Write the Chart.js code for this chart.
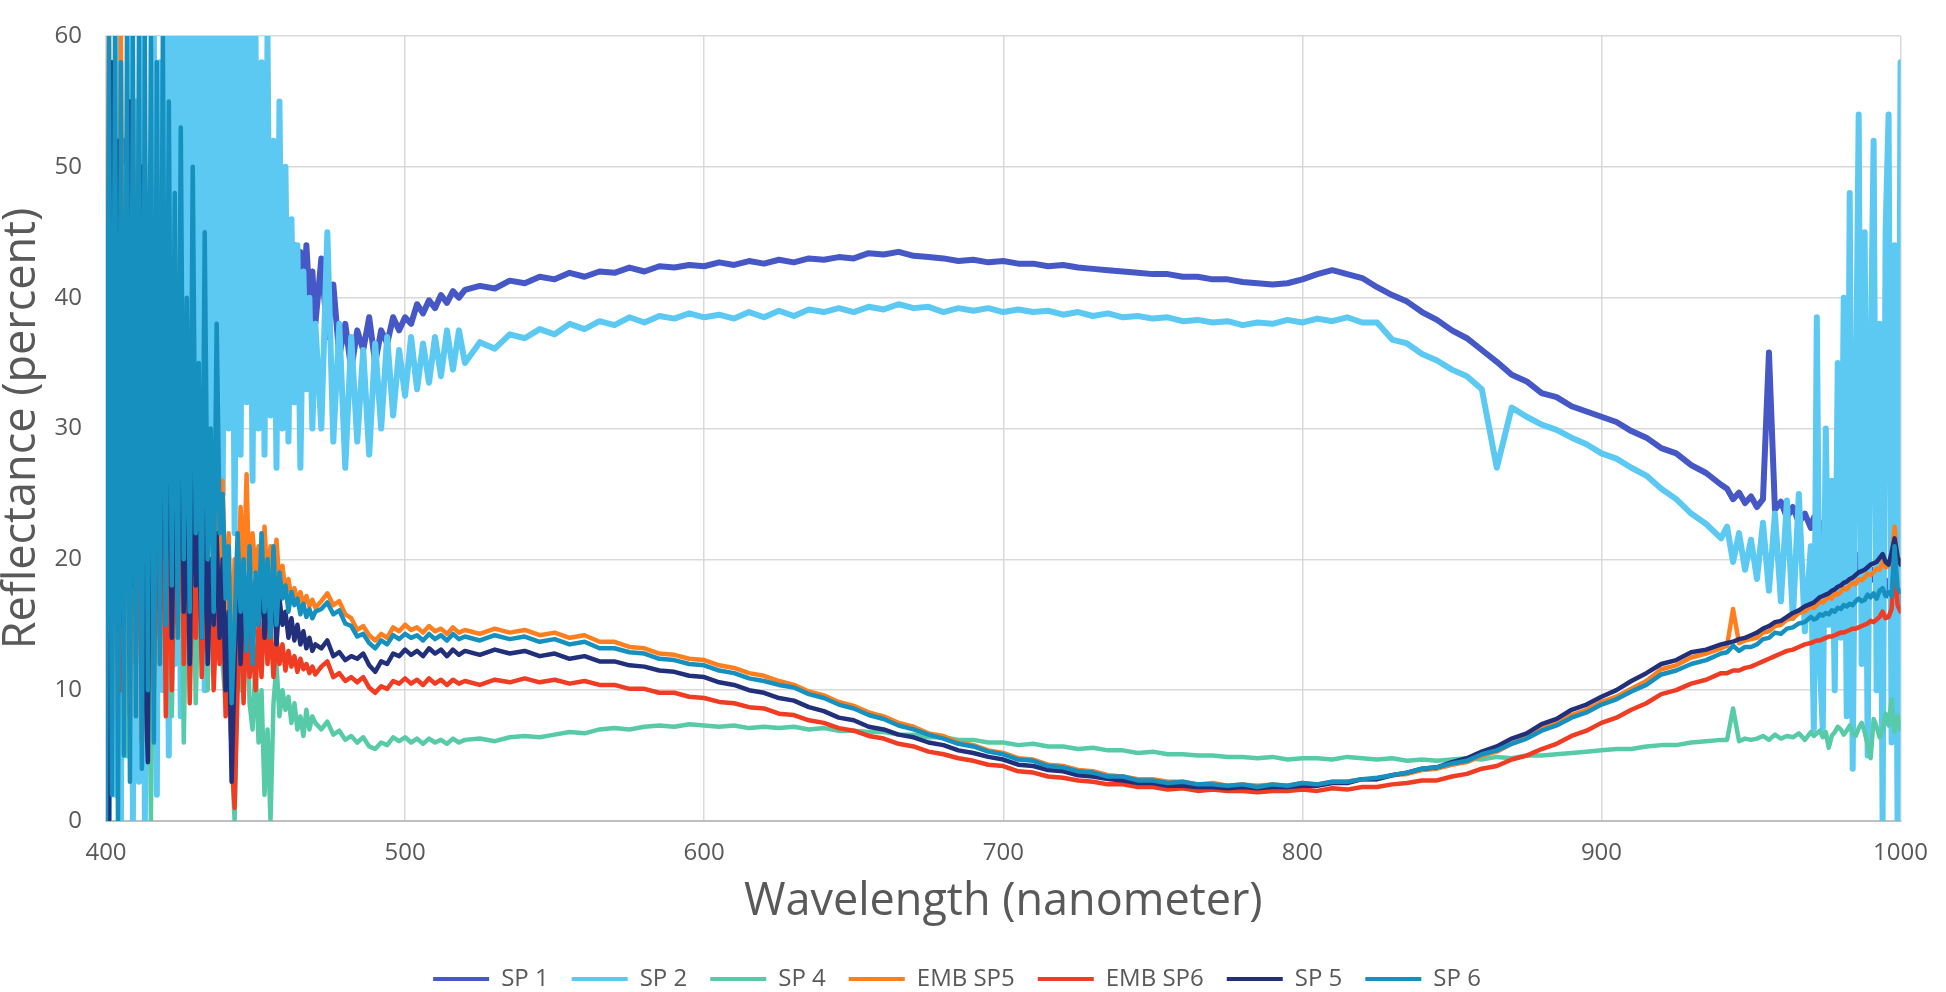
<!DOCTYPE html>
<html>
<head>
<meta charset="utf-8">
<title>Reflectance spectra</title>
<script src="https://cdn.jsdelivr.net/npm/chart.js@4.4.1/dist/chart.umd.min.js"></script>
<style>
  html, body { margin: 0; padding: 0; background: #ffffff; }
  #wrap { width: 1946px; height: 992px; }
</style>
</head>
<body>
<div id="wrap"><canvas id="myChart" width="1946" height="992"></canvas></div>
<script>
// wavelength samples (nm): 1 nm where the spectra are very noisy, 2 nm next to
// those parts, 5 nm across the smooth middle
const wavelengths = [
    400, 401, 402, 403, 404, 405, 406, 407, 408, 409, 410, 411, 412, 413, 414, 415, 416, 417, 418, 419, 420,
    421, 422, 423, 424, 425, 426, 427, 428, 429, 430, 431, 432, 433, 434, 435, 436, 437,
    438, 439, 440, 441, 442, 443, 444, 445, 446, 447, 448, 449, 450, 451, 452, 453, 454,
    455, 456, 457, 458, 459, 460, 461, 462, 463, 464, 465, 466, 467, 468, 469, 470,
    472, 474, 476, 478, 480, 482, 484, 486, 488, 490, 492, 494, 496, 498, 500,
    502, 504, 506, 508, 510, 512, 514, 516, 518, 520,
    525, 530, 535, 540, 545, 550, 555, 560, 565, 570,
    575, 580, 585, 590, 595, 600, 605, 610, 615, 620,
    625, 630, 635, 640, 645, 650, 655, 660, 665, 670,
    675, 680, 685, 690, 695, 700, 705, 710, 715, 720,
    725, 730, 735, 740, 745, 750, 755, 760, 765, 770,
    775, 780, 785, 790, 795, 800, 805, 810, 815, 820,
    825, 830, 835, 840, 845, 850, 855, 860, 865, 870,
    875, 880, 885, 890, 895, 900, 905, 910, 915, 920,
    925, 930, 935, 940,
    942, 944, 946, 948, 950, 952, 954, 956, 958, 960, 962, 964, 966, 968, 970,
    971, 972, 973, 974, 975, 976, 977, 978, 979, 980,
    981, 982, 983, 984, 985, 986, 987, 988, 989, 990,
    991, 992, 993, 994, 995, 996, 997, 998, 999, 1000
];

const sp1 = [
    40, 22, 55, 30, 60, 25, 52, 35, 58, 28, 50, 38, 60, 30, 45, 36, 55, 32, 50, 40, 58,
    35, 52, 38, 48, 36, 55, 40, 46, 37, 50, 39, 47, 36, 45, 40, 49, 38,
    44, 39, 46, 37, 43, 40, 45, 38, 42, 39, 44, 37, 41, 38, 43, 36, 40,
    38, 42, 37, 41, 39, 40, 37, 38, 44, 41, 43.5, 39, 44, 40, 42, 38,
    43, 37, 41, 35.5, 38, 34.5, 37.5, 36, 38.5, 35, 37.5, 36.5, 38.5, 37.5, 38.5,
    38, 39.5, 38.8, 39.8, 39.2, 40.2, 39.6, 40.5, 40, 40.6,
    40.9, 40.7, 41.3, 41.1, 41.6, 41.4, 41.9, 41.6, 42.0, 41.9,
    42.3, 42.0, 42.4, 42.3, 42.5, 42.4, 42.7, 42.5, 42.8, 42.6,
    42.9, 42.7, 43.0, 42.9, 43.1, 43.0, 43.4, 43.3, 43.5, 43.2,
    43.1, 43.0, 42.8, 42.9, 42.7, 42.8, 42.6, 42.6, 42.4, 42.5,
    42.3, 42.2, 42.1, 42.0, 41.9, 41.8, 41.8, 41.6, 41.6, 41.4,
    41.4, 41.2, 41.1, 41.0, 41.1, 41.4, 41.8, 42.1, 41.8, 41.5,
    40.8, 40.2, 39.7, 38.9, 38.3, 37.5, 36.9, 36.0, 35.1, 34.1,
    33.6, 32.7, 32.4, 31.7, 31.3, 30.9, 30.5, 29.8, 29.3, 28.5,
    28.1, 27.2, 26.6, 25.7,
    25.4, 24.6, 25.1, 24.3, 24.8, 24.0, 24.6, 35.8, 23.8, 24.4, 23.2, 24.0, 22.8, 23.5, 22.4,
    23.2, 22.0, 22.8, 21.6, 22.4, 21.2, 22.0, 20.8, 21.6, 20.4,
    21.2, 20.0, 20.8, 19.6, 20.4, 19.2, 20.0, 18.8, 19.6, 18.4,
    19.2, 18.0, 18.8, 17.6, 18.4, 17.2, 18.0, 16.8, 17.6, 16.4
];

const sp2 = [
    20, 0, 45, 2, 60, 0, 50, 5, 60, 0, 55, 3, 60, 0, 48, 6, 60, 2, 58, 10, 60,
    5, 60, 12, 60, 8, 60, 20, 60, 15, 60, 25, 60, 10, 60, 22, 60, 18,
    60, 25, 60, 30, 60, 22, 60, 28, 60, 32, 60, 26, 60, 30, 58, 28, 60,
    31, 52, 27, 55, 30, 50, 29, 46, 32, 44, 27, 42, 33, 40, 30, 38,
    30, 45, 29, 38, 27, 37, 29, 36, 28, 36.5, 30, 37, 31, 36, 32.5,
    37, 33, 36.5, 33.5, 37, 34, 37.5, 34.5, 37.5, 35,
    36.6, 36.1, 37.2, 36.9, 37.6, 37.2, 38.0, 37.6, 38.2, 37.9,
    38.5, 38.1, 38.6, 38.4, 38.8, 38.5, 38.7, 38.4, 38.9, 38.5,
    39.0, 38.6, 39.1, 38.9, 39.2, 38.9, 39.3, 39.1, 39.5, 39.2,
    39.3, 38.9, 39.2, 39.0, 39.2, 38.9, 39.1, 38.9, 39.0, 38.7,
    38.9, 38.6, 38.8, 38.5, 38.6, 38.4, 38.5, 38.2, 38.3, 38.1,
    38.2, 37.9, 38.1, 38.0, 38.3, 38.1, 38.4, 38.2, 38.5, 38.1,
    38.1, 36.8, 36.5, 35.7, 35.2, 34.5, 34.0, 33.0, 27.0, 31.6,
    30.9, 30.3, 29.9, 29.3, 28.8, 28.1, 27.7, 27.0, 26.4, 25.4,
    24.6, 23.5, 22.7, 21.6,
    22.5, 19.8, 22.0, 19.2, 21.5, 18.5, 22.8, 17.6, 23.5, 16.8, 24.5, 15.5, 25, 14.5, 21,
    7, 38.5, 12, 7, 30, 15, 26, 10, 35, 14,
    40, 8, 48, 4, 30, 54, 12, 45, 5, 35,
    52, 10, 38, 0, 45, 54, 6, 44, 0, 58
];

const sp4 = [
    30, 8, 45, 12, 40, 20, 35, 5, 38, 15, 42, 18, 30, 10, 25, 0, 20, 35, 12, 28, 10,
    25, 8, 22, 14, 26, 6, 20, 12, 24, 9, 18, 15, 22, 10, 19, 13, 17,
    20, 12, 9, 14, 5, 0, 14, 10, 12, 18, 9, 7, 12, 6, 10, 2, 7,
    0, 9, 12, 8, 10, 8.5, 9.5, 7.5, 9, 7, 8, 6.5, 8.5, 7, 8, 7.5,
    7.0, 7.6, 6.6, 6.9, 6.2, 6.5, 6.0, 6.4, 5.7, 5.5, 6.0, 5.8, 6.4, 6.1, 6.4,
    6.0, 6.3, 5.9, 6.3, 6.0, 6.2, 5.9, 6.3, 6.0, 6.2,
    6.3, 6.1, 6.4, 6.5, 6.4, 6.6, 6.8, 6.7, 7.0, 7.1,
    7.0, 7.2, 7.3, 7.2, 7.4, 7.3, 7.2, 7.3, 7.1, 7.2,
    7.1, 7.2, 7.0, 7.1, 6.9, 6.9, 6.8, 6.8, 6.6, 6.6,
    6.4, 6.4, 6.2, 6.2, 6.0, 6.0, 5.8, 5.9, 5.7, 5.7,
    5.5, 5.6, 5.4, 5.4, 5.2, 5.3, 5.1, 5.1, 5.0, 5.0,
    4.9, 4.9, 4.8, 4.9, 4.7, 4.8, 4.8, 4.7, 4.9, 4.8,
    4.7, 4.8, 4.6, 4.7, 4.6, 4.7, 4.8, 4.7, 4.9, 4.8,
    5.0, 5.0, 5.1, 5.2, 5.3, 5.4, 5.5, 5.5, 5.7, 5.8,
    5.8, 6.0, 6.1, 6.2,
    6.2, 8.6, 6.1, 6.3, 6.2, 6.3, 6.5, 6.2, 6.6, 6.3, 6.5, 6.4, 6.7, 6.2, 6.8,
    6.5, 6.7, 6.9, 6.4, 6.8, 5.6, 6.5, 6.8, 7.2, 7.0,
    6.6, 6.9, 7.3, 6.7, 6.5, 7.1, 7.5, 6.8, 5.8, 4.8,
    7.8, 7.2, 6.4, 7.0, 8.2, 7.3, 9.3, 6.8, 8.0, 7.0
];

const embSp5 = [
    15, 60, 8, 50, 20, 60, 12, 45, 25, 55, 18, 40, 22, 50, 14, 35, 26, 48, 20, 38, 16,
    42, 22, 35, 18, 30, 24, 38, 20, 28, 17, 32, 22, 26, 18, 29, 20, 24,
    18, 26, 15, 22, 12, 20, 16, 24, 18, 26.5, 17, 22, 19, 21, 17, 22.5, 18,
    21, 19, 21.5, 18, 19.5, 17.5, 18.5, 17, 17.8, 16.8, 17.5, 16.5, 17.2, 16.4, 16.9, 16.3,
    16.8, 17.4, 16.5, 16.8, 15.8, 15.5, 14.6, 14.9, 14.2, 13.8, 14.3, 14.0, 14.8, 14.5, 15.0,
    14.6, 14.8, 14.4, 14.9, 14.5, 14.7, 14.3, 14.8, 14.4, 14.6,
    14.3, 14.7, 14.4, 14.6, 14.2, 14.4, 14.0, 14.2, 13.7, 13.7,
    13.3, 13.2, 12.8, 12.7, 12.4, 12.3, 11.9, 11.7, 11.3, 11.1,
    10.7, 10.4, 9.9, 9.6, 9.1, 8.8, 8.3, 8.0, 7.5, 7.2,
    6.7, 6.5, 6.0, 5.8, 5.4, 5.2, 4.8, 4.7, 4.3, 4.2,
    3.9, 3.8, 3.5, 3.4, 3.2, 3.2, 3.0, 3.0, 2.8, 2.9,
    2.7, 2.8, 2.7, 2.8, 2.7, 2.9, 2.8, 3.0, 3.0, 3.2,
    3.2, 3.5, 3.6, 3.9, 4.0, 4.3, 4.5, 5.0, 5.3, 5.9,
    6.4, 7.1, 7.5, 8.1, 8.5, 9.1, 9.5, 10.1, 10.7, 11.6,
    11.9, 12.5, 12.8, 13.2,
    13.4, 16.2, 13.6, 13.8, 13.9, 14.0, 14.4, 14.5, 14.9, 15.0, 15.4, 15.5, 15.9, 16.0, 16.4,
    16.3, 16.5, 16.8, 16.7, 16.9, 17.1, 17.0, 17.4, 17.3, 17.5,
    17.8, 17.7, 18.0, 18.2, 18.1, 18.5, 18.4, 18.6, 18.9, 18.8,
    19.0, 19.3, 19.2, 19.8, 19.4, 19.5, 20.2, 22.5, 19.8, 20.0
];

const embSp6 = [
    35, 5, 30, 18, 45, 10, 28, 40, 8, 50, 12, 32, 6, 28, 15, 35, 10, 24, 14, 30, 8,
    26, 10, 22, 15, 30, 12, 25, 9, 20, 14, 24, 11, 18, 13, 20, 10, 16,
    12, 18, 8, 14, 5, 1, 10, 18, 9, 16, 11, 14, 10, 15, 11, 17, 12,
    15, 11, 14, 12, 13.5, 11.5, 13, 11.8, 12.6, 11.4, 12.4, 11.6, 12, 11.3, 11.8, 11.2,
    11.8, 12.2, 11.0, 11.3, 10.7, 11.0, 10.6, 11.0, 10.2, 9.8, 10.3, 10.1, 10.7, 10.5, 10.9,
    10.5, 10.8, 10.4, 10.9, 10.5, 10.8, 10.4, 10.8, 10.5, 10.7,
    10.4, 10.8, 10.6, 10.9, 10.6, 10.8, 10.5, 10.7, 10.4, 10.4,
    10.1, 10.1, 9.8, 9.8, 9.5, 9.4, 9.1, 9.0, 8.7, 8.6,
    8.2, 8.1, 7.7, 7.5, 7.1, 6.9, 6.5, 6.3, 5.9, 5.7,
    5.3, 5.1, 4.8, 4.6, 4.3, 4.2, 3.8, 3.7, 3.4, 3.3,
    3.1, 3.0, 2.8, 2.8, 2.6, 2.6, 2.4, 2.5, 2.3, 2.4,
    2.3, 2.3, 2.2, 2.3, 2.3, 2.4, 2.3, 2.5, 2.4, 2.6,
    2.6, 2.8, 2.9, 3.1, 3.1, 3.4, 3.6, 4.0, 4.2, 4.7,
    5.0, 5.5, 5.9, 6.5, 6.9, 7.5, 7.9, 8.5, 9.0, 9.7,
    10.0, 10.5, 10.8, 11.3,
    11.3, 11.5, 11.5, 11.7, 11.8, 12.0, 12.2, 12.4, 12.6, 12.8, 13.0, 13.1, 13.3, 13.5, 13.6,
    13.7, 13.8, 13.8, 13.9, 14.0, 14.1, 14.1, 14.2, 14.3, 14.4,
    14.4, 14.5, 14.6, 14.7, 14.7, 14.8, 14.9, 15.0, 15.1, 15.3,
    15.2, 15.4, 15.6, 16.0, 15.5, 15.6, 16.2, 20.0, 16.5, 16.0
];

const sp5 = [
    45, 0, 58, 20, 52, 15, 40, 30, 55, 18, 42, 25, 50, 12, 4.5, 38, 22, 45, 16, 35, 20,
    32, 14, 28, 18, 35, 16, 25, 12, 30, 18, 22, 14, 26, 12, 20, 15, 22,
    14, 20, 10, 16, 3, 12, 20, 12, 18, 14, 19, 13, 18, 15, 20, 14, 17,
    15, 18, 13.5, 17, 15, 16, 14, 15.5, 13.8, 15, 13.5, 14.5, 13.2, 14, 13, 13.5,
    13.2, 13.8, 12.6, 12.9, 12.3, 12.6, 12.4, 12.8, 11.9, 11.4, 12.2, 12.0, 12.8, 12.6, 13.1,
    12.7, 13.0, 12.6, 13.2, 12.8, 13.1, 12.6, 13.1, 12.7, 13.0,
    12.7, 13.1, 12.8, 13.0, 12.6, 12.8, 12.4, 12.6, 12.2, 12.2,
    11.9, 11.8, 11.5, 11.4, 11.1, 11.0, 10.6, 10.4, 10.0, 9.8,
    9.4, 9.2, 8.7, 8.4, 7.9, 7.7, 7.2, 7.0, 6.6, 6.4,
    6.0, 5.8, 5.4, 5.2, 4.9, 4.7, 4.3, 4.2, 3.9, 3.8,
    3.5, 3.4, 3.2, 3.1, 2.9, 2.9, 2.7, 2.7, 2.6, 2.6,
    2.5, 2.6, 2.5, 2.6, 2.6, 2.7, 2.7, 2.9, 2.9, 3.2,
    3.2, 3.5, 3.7, 4.0, 4.1, 4.5, 4.8, 5.3, 5.7, 6.3,
    6.7, 7.4, 7.8, 8.5, 8.9, 9.5, 10.0, 10.7, 11.3, 12.0,
    12.3, 12.9, 13.1, 13.5,
    13.6, 13.7, 13.9, 14.0, 14.2, 14.4, 14.7, 14.9, 15.2, 15.3, 15.6, 15.9, 16.1, 16.4, 16.6,
    16.7, 16.9, 17.1, 17.2, 17.3, 17.4, 17.6, 17.7, 17.9, 18.0,
    18.2, 18.3, 18.5, 18.6, 18.8, 19.0, 19.1, 19.2, 19.4, 19.6,
    19.7, 19.8, 20.1, 20.4, 19.8, 19.6, 20.5, 21.6, 20.2, 19.6
];

const sp6 = [
    0, 60, 2, 60, 0, 58, 5, 60, 3, 60, 8, 60, 4, 60, 10, 60, 6, 58, 12, 60, 15,
    55, 18, 48, 14, 53, 20, 40, 16, 50, 22, 35, 14, 45, 20, 30, 16, 38,
    22, 25, 17, 21, 9, 15, 22, 16, 20, 13, 21, 12, 19, 15, 22, 16, 20,
    14, 21, 15, 19, 17, 18, 16, 17.5, 16.5, 17, 15.8, 16.6, 15.6, 16.2, 15.5, 16,
    16.2, 16.7, 15.8, 16.1, 15.1, 14.9, 14.1, 14.3, 13.6, 13.2, 13.8, 13.5, 14.2, 13.9, 14.3,
    14.0, 14.2, 13.8, 14.3, 13.9, 14.2, 13.8, 14.3, 13.9, 14.1,
    13.8, 14.2, 13.9, 14.1, 13.7, 13.9, 13.5, 13.7, 13.2, 13.2,
    12.9, 12.8, 12.4, 12.3, 12.0, 11.9, 11.5, 11.3, 10.9, 10.7,
    10.4, 10.2, 9.7, 9.4, 8.9, 8.6, 8.1, 7.8, 7.3, 7.0,
    6.6, 6.3, 5.9, 5.7, 5.3, 5.1, 4.7, 4.6, 4.2, 4.1,
    3.8, 3.7, 3.4, 3.4, 3.1, 3.1, 2.9, 3.0, 2.8, 2.8,
    2.7, 2.8, 2.6, 2.8, 2.7, 2.9, 2.8, 3.0, 3.0, 3.2,
    3.3, 3.5, 3.7, 4.0, 4.1, 4.4, 4.6, 5.1, 5.4, 5.9,
    6.3, 6.9, 7.3, 7.9, 8.3, 8.9, 9.3, 9.9, 10.4, 11.2,
    11.5, 12.0, 12.3, 12.8,
    12.9, 13.4, 13.0, 13.3, 13.3, 13.5, 13.9, 14.0, 14.4, 14.3, 14.7, 14.8, 15.1, 15.2, 15.6,
    15.4, 15.5, 15.8, 15.7, 15.9, 15.8, 16.1, 16.0, 16.3, 16.2,
    16.5, 16.4, 16.6, 16.5, 16.8, 17.0, 16.8, 16.9, 17.3, 17.1,
    17.4, 17.0, 17.6, 17.8, 17.2, 17.5, 17.2, 21.0, 17.8, 17.5
];

const seriesLabels = ['SP 1', 'SP 2', 'SP 4', 'EMB SP5', 'EMB SP6', 'SP 5', 'SP 6'];
const seriesValues = [sp1, sp2, sp4, embSp5, embSp6, sp5, sp6];
const seriesColors = ['#4657c6', '#5bc9f2', '#57cba8', '#ff7f1f', '#f03c22', '#22307c', '#1590bf'];
const seriesWidths = [6, 6, 4.5, 4.5, 4.5, 4.5, 4.5];

const xTicks = [400, 500, 600, 700, 800, 900, 1000];
const yTicks = [0, 10, 20, 30, 40, 50, 60];

const textColor = '#595959';
Chart.defaults.font.family = "'Open Sans', 'DejaVu Sans', sans-serif";
Chart.defaults.color = textColor;

function renderSpectra(canvasId) {
    const ctx = document.getElementById(canvasId).getContext('2d');

    const datasets = seriesLabels.map((label, i) => ({
        label,
        data: wavelengths.map((w, j) => ({ x: w, y: seriesValues[i][j] })),
        borderColor: seriesColors[i],
        backgroundColor: seriesColors[i],
        borderWidth: seriesWidths[i],
        borderJoinStyle: 'round',
        borderCapStyle: 'round',
        pointRadius: 0,
        tension: 0,
        // later series sit on top, like the original
        order: seriesLabels.length - i
    }));

    return new Chart(ctx, {
        type: 'line',
        data: { datasets },
        options: {
            responsive: false,
            animation: false,
            events: [],
            layout: { padding: { top: 13, right: 32, bottom: -9, left: 0 } },
            scales: {
                x: {
                    type: 'linear',
                    min: xTicks[0],
                    max: xTicks[xTicks.length - 1],
                    afterBuildTicks: scale => { scale.ticks = xTicks.map(v => ({ value: v })); },
                    afterFit: scale => { scale.height = 123; },
                    ticks: {
                        font: { size: 24 },
                        color: textColor,
                        padding: 18,
                        maxRotation: 0,
                        callback: v => String(v)
                    },
                    grid: { color: '#d9d9d9', lineWidth: 1.5, drawTicks: false },
                    border: { color: '#bfbfbf', width: 2 },
                    title: {
                        display: true,
                        text: 'Wavelength (nanometer)',
                        font: { size: 45, lineHeight: 1 },
                        color: textColor,
                        padding: { top: 0, bottom: 19 }
                    }
                },
                y: {
                    min: yTicks[0],
                    max: yTicks[yTicks.length - 1],
                    afterBuildTicks: scale => { scale.ticks = yTicks.map(v => ({ value: v })); },
                    afterFit: scale => { scale.width = 106; },
                    ticks: {
                        font: { size: 24, lineHeight: 1 },
                        color: textColor,
                        padding: 24
                    },
                    grid: { color: '#d9d9d9', lineWidth: 1.5, drawTicks: false },
                    border: { color: '#d9d9d9', width: 1.5 },
                    title: {
                        display: true,
                        text: 'Reflectance (percent)',
                        font: { size: 45, lineHeight: 1 },
                        color: textColor,
                        padding: { top: 0, bottom: 0 }
                    }
                }
            },
            plugins: {
                legend: {
                    display: true,
                    position: 'bottom',
                    labels: {
                        font: { size: 24 },
                        color: textColor,
                        boxWidth: 56,
                        boxHeight: 4,
                        padding: 23,
                        sort: (a, b) => a.datasetIndex - b.datasetIndex,
                        generateLabels: chart => Chart.defaults.plugins.legend.labels
                            .generateLabels(chart)
                            .map(item => ({ ...item, lineWidth: 0 }))
                    }
                },
                tooltip: { enabled: false }
            }
        }
    });
}

renderSpectra('myChart');
</script>
</body>
</html>
